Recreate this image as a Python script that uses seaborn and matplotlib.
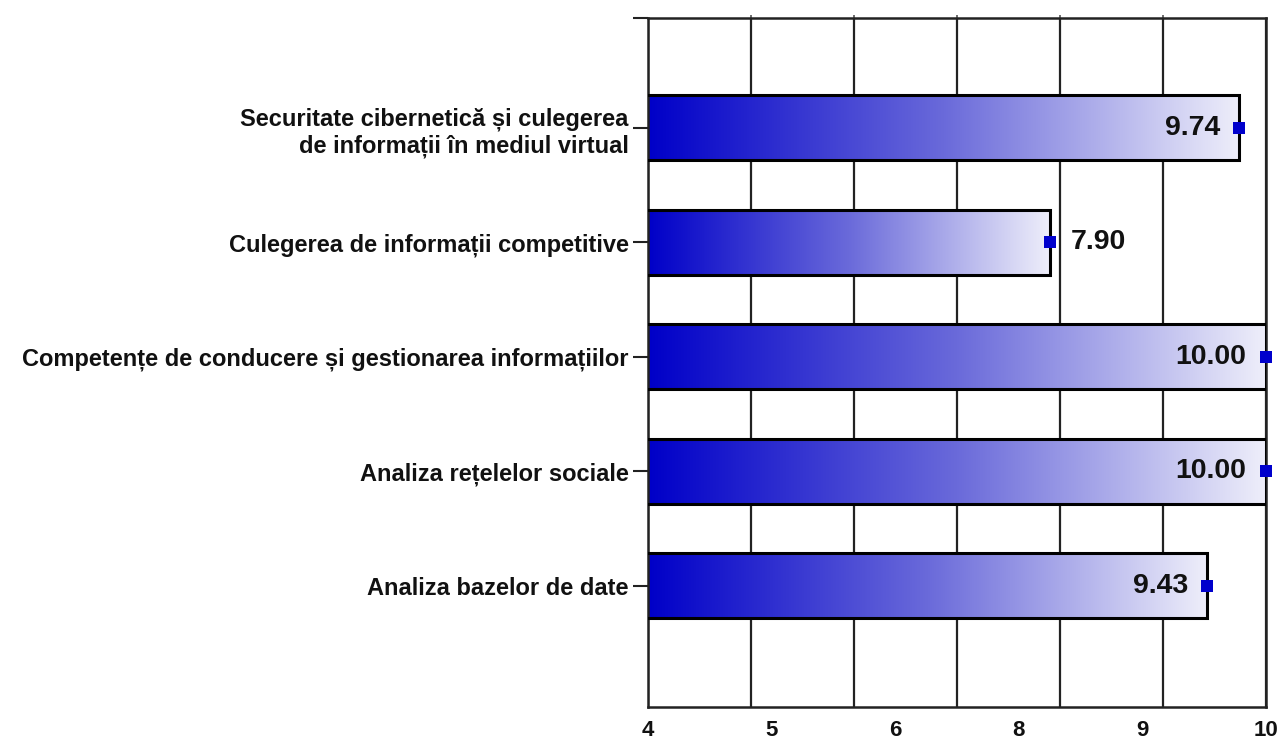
import numpy as np
import pandas as pd
import matplotlib
matplotlib.use("Agg")
import matplotlib.pyplot as plt
import seaborn as sns
from matplotlib.colors import LinearSegmentedColormap

# Scores per training module
categories = [
    "Securitate cibernetică și culegerea\nde informații în mediul virtual",
    "Culegerea de informații competitive",
    "Competențe de conducere și gestionarea informațiilor",
    "Analiza rețelelor sociale",
    "Analiza bazelor de date",
]
scores = [9.74, 7.90, 10.00, 10.00, 9.43]

# Axis scale: labels are spread evenly over 4..10, gridlines sit on integers
x_min, x_max = 4, 10
tick_labels = ["4", "5", "6", "8", "9", "10"]
grid_values = [4, 5, 6, 7, 8, 9, 10]

sns.set_theme(style="white")
plt.rcParams["font.family"] = ["Liberation Sans", "DejaVu Sans"]

fig = plt.figure(figsize=(12.82, 7.42), dpi=100)
ax = fig.add_axes([648 / 1282, 1 - 707 / 742, (1266 - 648) / 1282, (707 - 18) / 742])

df = pd.DataFrame({"category": categories, "score": scores})
sns.barplot(data=df, x="score", y="category", orient="h", width=0.57,
            color="white", edgecolor="black", linewidth=2.2, ax=ax)

# Horizontal blue-to-white gradient fill inside each bar
cmap = LinearSegmentedColormap.from_list("bluefade", ["#0000C8", "#6A6ADA", "#EEEEFA"])
gradient = np.linspace(0, 1, 256).reshape(1, -1)
for patch, val in zip(ax.patches, scores):
    y0 = patch.get_y()
    h = patch.get_height()
    patch.set_facecolor("none")
    patch.set_zorder(3)
    ax.imshow(gradient, cmap=cmap, aspect="auto", interpolation="bicubic",
              extent=[x_min, val, y0 + h, y0], zorder=2)

# End markers and value labels
ax.scatter(scores, range(len(scores)), marker="s", s=80, color="#0000CC",
           zorder=5, clip_on=False, linewidths=0)
for i, val in enumerate(scores):
    inside = val > 9
    ax.annotate(f"{val:.2f}", (val, i), xytext=(-14 if inside else 15, 0),
                textcoords="offset points", ha="right" if inside else "left",
                va="center", fontsize=20.5, fontweight="bold", color="#111111", zorder=6)

# Gridlines on integer values
for g in grid_values:
    ax.axvline(g, color="#222222", lw=1.6, zorder=1)

ax.set_xlim(x_min, x_max)
ax.set_ylim(5.06, -0.96)

ax.set_xticks(np.linspace(x_min, x_max, len(tick_labels)))
ax.set_xticklabels(tick_labels)
ax.set_xticks(grid_values, minor=True)
ax.tick_params(axis="x", which="major", length=0, pad=9, labelsize=16, bottom=True)
ax.tick_params(axis="x", which="minor", top=True, bottom=False, length=2,
               width=1.2, color="#555555")
ax.tick_params(axis="y", which="major", left=True, length=11, width=1.5,
               color="#222222", labelsize=17, pad=3)
ax.set_yticks([-0.96], minor=True)
ax.tick_params(axis="y", which="minor", left=True, length=11, width=1.5, color="#222222")

for lbl in ax.get_xticklabels() + ax.get_yticklabels():
    lbl.set_fontweight("bold")
    lbl.set_color("#111111")

ax.set_xlabel("")
ax.set_ylabel("")
for s in ax.spines.values():
    s.set_color("#222222")
    s.set_linewidth(1.8)

fig.savefig("out.png", dpi=100, facecolor="white")
